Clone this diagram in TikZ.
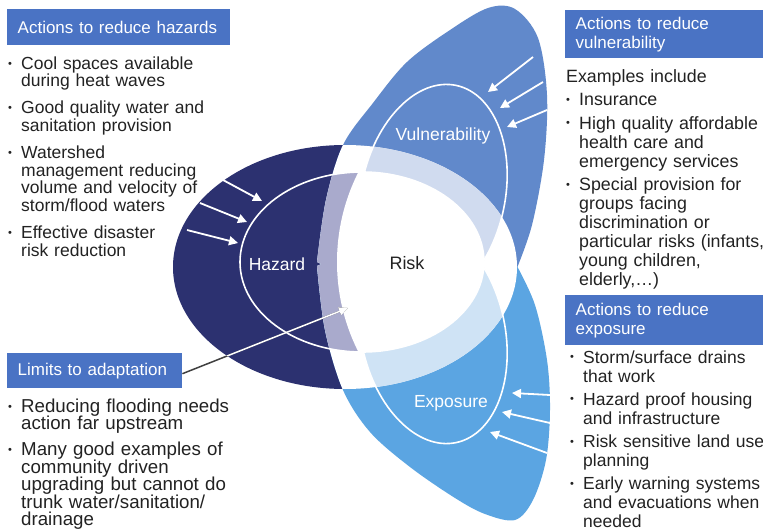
\documentclass[tikz,border=0pt]{standalone}
\usepackage{fontspec}
\setmainfont{Liberation Sans}
\usetikzlibrary{arrows.meta}

\definecolor{hazcol}{HTML}{2C3170}
\definecolor{vulcol}{HTML}{6189CB}
\definecolor{expcol}{HTML}{5BA5E2}
\definecolor{lavcol}{HTML}{A9AACC}
\definecolor{palevul}{HTML}{D0DBEF}
\definecolor{paleexp}{HTML}{CFE3F5}
\definecolor{headcol}{HTML}{4A73C4}
\definecolor{txtcol}{HTML}{222222}

\newcommand{\bul}{\par\noindent\hangindent=13pt\hangafter=1\makebox[13pt][l]{\raisebox{2.2pt}{\fontsize{11}{11}\selectfont\textbullet}}}

\newcommand{\hazout}{(345,267) ellipse [x radius=172, y radius=122]}
\newcommand{\hazin}{(362,262) ellipse [x radius=122, y radius=90]}
\newcommand{\vulin}{[rotate around={78:(433,195)}] (433,195) ellipse [x radius=112, y radius=72]}
\newcommand{\expin}{[rotate around={-78:(433,333)}] (433,333) ellipse [x radius=112, y radius=72]}
\newcommand{\vulout}{plot[smooth, tension=0.55] coordinates {(517,268) (532,225) (544,160) (547,95) (538,38) (515,9) (488,8) (450,30) (407,62) (373,103) (343,145) (326,200) (317,262)} -- (400,300) -- cycle}
\newcommand{\expout}{plot[smooth, tension=0.55] coordinates {(517,266) (535,305) (547,360) (550,410) (546,460) (533,500) (515,520) (485,514) (455,498) (410,467) (370,432) (343,390) (325,330) (317,266)} -- (400,230) -- cycle}

\begin{document}
\begin{tikzpicture}[x=1pt, y=-1pt,
		inarrow/.style={white, line width=1.8pt, -{Triangle[length=9pt, width=9pt]}},
		limline/.style={line width=1.5pt, -{Triangle[length=9pt, width=8pt]}},
		ring/.style={white, line width=1.6pt},
		headbox/.style={fill=headcol, text=white, anchor=north west, inner xsep=10.5pt, inner ysep=0pt, align=left, font=\fontsize{17}{19}\selectfont},
		listtext/.style={anchor=north west, inner sep=0pt, text=txtcol},
		petallabel/.style={text=white, font=\fontsize{17.5}{18}\selectfont}]

	\useasboundingbox (0,0) rectangle (763,532);
	\fill[white] (0,0) rectangle (763,532);

	\fill[hazcol] \hazout;
	\fill[vulcol] \vulout;
	\fill[expcol] \expout;

	\begin{scope}
		\clip \hazout;
		\fill[white] \vulout;
		\fill[white] \expout;
		\fill[palevul] \vulin;
		\fill[paleexp] \expin;
	\end{scope}

	\begin{scope}
		\clip \hazin;
		\fill[lavcol] \vulout;
		\fill[lavcol] \expout;
		\fill[white] (536,262) circle [radius=199];
	\end{scope}

	\draw[ring] \hazin;
	\draw[ring] \vulin;
	\draw[ring] \expin;

	\foreach \n/\sx/\sy/\ex/\ey in {1/223/180/262/201, 2/200/203/247/222, 3/187/230/238/243} {
		\coordinate (hs\n) at (\sx,\sy);
		\coordinate (he\n) at (\ex,\ey);
		\draw[inarrow] (hs\n) -- (he\n);
	}
	\foreach \n/\sx/\sy/\ex/\ey in {1/533/57/488/92, 2/543/82/500/108, 3/547/110/507/127} {
		\coordinate (vs\n) at (\sx,\sy);
		\coordinate (ve\n) at (\ex,\ey);
		\draw[inarrow] (vs\n) -- (ve\n);
	}
	\foreach \n/\sx/\sy/\ex/\ey in {1/550/395/512/393, 2/550/423/502/412, 3/547/453/490/432} {
		\coordinate (es\n) at (\sx,\sy);
		\coordinate (ee\n) at (\ex,\ey);
		\draw[inarrow] (es\n) -- (ee\n);
	}

	\node[petallabel] (hazlbl) at (277,264) {Hazard};
	\node[petallabel] (vullbl) at (443,136) {Vulnerability};
	\node[petallabel] (explbl) at (451,403) {Exposure};
	\node[text=txtcol, font=\fontsize{18}{18}\selectfont] (risk) at (407,263) {Risk};

	\node[headbox, minimum height=36pt, text width=202pt] (hazhead) at (7,9) {Actions to reduce hazards};
	\node[headbox, minimum height=48pt, text width=177pt] (vulhead) at (565,10) {Actions to reduce\\vulnerability};
	\node[headbox, minimum height=50pt, text width=177pt] (exphead) at (565,295) {Actions to reduce\\exposure};
	\node[headbox, minimum height=35pt, text width=154pt] (limhead) at (7,353) {Limits to adaptation};

	\coordinate (limtip) at (348,308);
	\draw[limline, black!75] ([yshift=-3pt]limhead.east) -- (limtip);
	\begin{scope}
		\clip \hazout;
		\draw[limline, white] ([yshift=-3pt]limhead.east) -- (limtip);
	\end{scope}

	\node[listtext, text width=260pt, font=\fontsize{17.5}{17.6}\selectfont] (hazlist) at (8,42) {\setlength{\parskip}{9.5pt}\bul Cool spaces available\newline during heat waves \bul Good quality water and\newline sanitation provision \bul Watershed\newline management reducing\newline volume and velocity of\newline storm/flood waters \bul Effective disaster\newline risk reduction\par};
	\node[listtext, text width=260pt, font=\fontsize{17.8}{19}\selectfont] (vullist) at (566,69) {\setlength{\parskip}{4.5pt}Examples include \bul Insurance \bul High quality affordable\newline health care and\newline emergency services \bul Special provision for\newline groups facing\newline discrimination or\newline particular risks (infants,\newline young children,\newline elderly,\ldots)\par};
	\node[listtext, text width=260pt, font=\fontsize{17.5}{19.3}\selectfont] (explist) at (570,340) {\setlength{\parskip}{3.5pt}\bul Storm/surface drains\newline that work \bul Hazard proof housing\newline and infrastructure \bul Risk sensitive land use\newline planning \bul Early warning systems\newline and evacuations when\newline needed\par};
	\node[listtext, text width=260pt, font=\fontsize{18.7}{17.5}\selectfont] (limlist) at (8,386) {\setlength{\parskip}{8.5pt}\bul Reducing flooding needs\newline action far upstream \bul Many good examples of\newline community driven\newline upgrading but cannot do\newline trunk water/sanitation/\newline drainage\par};
\end{tikzpicture}
\end{document}
